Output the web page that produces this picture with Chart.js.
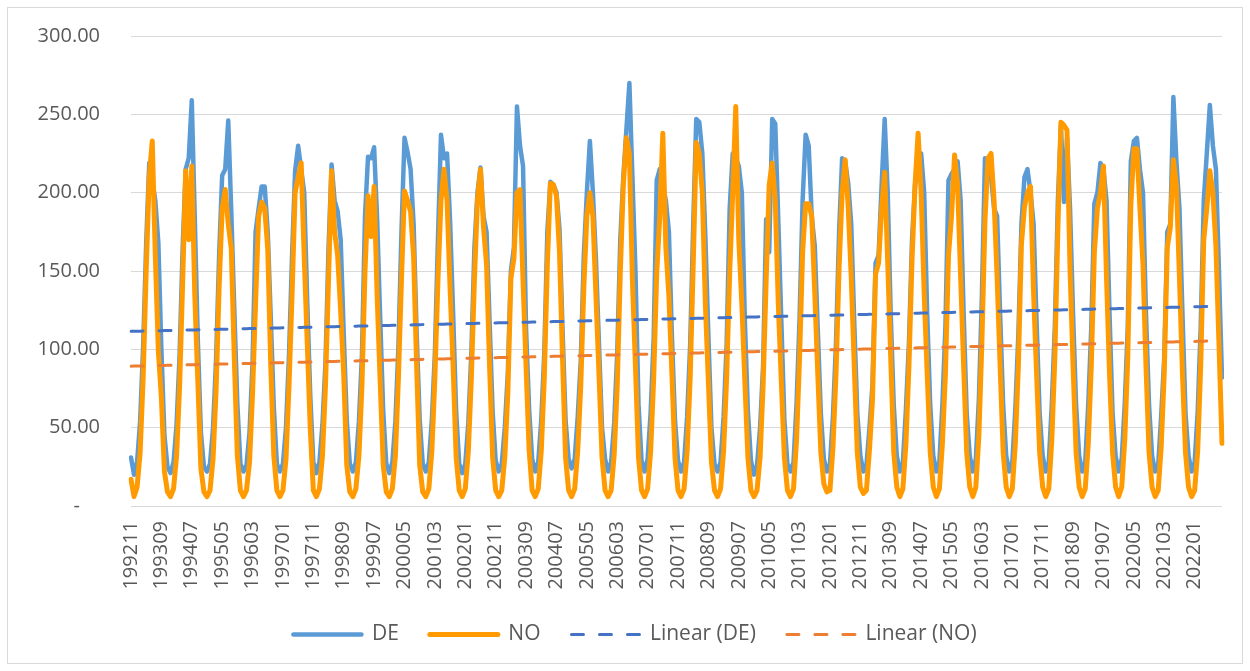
<!DOCTYPE html>
<html>
<head>
<meta charset="utf-8">
<script src="https://cdn.jsdelivr.net/npm/chart.js@4.4.1/dist/chart.umd.min.js"></script>
<style>
  html, body { margin: 0; padding: 0; background: #ffffff; }
  #wrap { position: relative; width: 1250px; height: 671px; }
</style>
</head>
<body>
<div id="wrap"><canvas id="c" width="1250" height="671"></canvas></div>
<script>
// ---- categories: monthly periods 199211 .. 202210 ----
const firstPeriod = [1992, 11];
const periodCount = 360;
const categories = [];
for (let k = 0; k < periodCount; k++) {
  const m0 = firstPeriod[1] - 1 + k;
  const y = firstPeriod[0] + Math.floor(m0 / 12);
  const m = (m0 % 12) + 1;
  categories.push(String(y) + String(m).padStart(2, '0'));
}
const labelEvery = 10;

// ---- series values (one row per year, Jan..Dec) ----
const deValues = [
  31, 20,                                                   // 1992 Nov-Dec
  28, 54, 102, 168, 219, 208, 195, 168, 100, 45, 25, 21,    // 1993
  28, 52,  97, 165, 215, 222, 259, 183, 105, 47, 25, 22,    // 1994
  27, 50,  94, 160, 211, 215, 246, 188, 125, 65, 27, 22,    // 1995
  26, 47,  92, 175, 190, 204, 204, 175, 120, 63, 27, 22,    // 1996
  27, 50,  97, 160, 214, 230, 215, 200, 130, 70, 28, 21,    // 1997
  28, 52,  92, 165, 218, 195, 188, 170, 110, 55, 27, 22,    // 1998
  28, 54,  97, 185, 223, 222, 229, 183, 120, 60, 27, 21,    // 1999
  28, 54, 102, 175, 235, 226, 215, 180, 110, 55, 27, 22,    // 2000
  28, 55,  98, 170, 237, 222, 225, 182, 123, 60, 27, 21,    // 2001
  27, 53,  98, 165, 200, 216, 185, 175, 118, 60, 29, 22,    // 2002
  27, 50,  85, 150, 165, 255, 230, 217, 113, 62, 30, 22,    // 2003
  28, 55,  98, 175, 207, 205, 200, 177, 113, 55, 30, 24,    // 2004
  30, 57,  93, 160, 200, 233, 200, 157, 103, 50, 30, 22,    // 2005
  28, 53,  98, 170, 210, 240, 270, 210, 150, 65, 29, 22,    // 2006
  30, 60, 108, 208, 215, 205, 195, 175, 108, 55, 29, 22,    // 2007
  28, 57, 103, 180, 247, 245, 225, 172, 108, 50, 27, 22,    // 2008
  28, 57, 103, 190, 225, 222, 217, 200, 118, 60, 29, 20,    // 2009
  26, 50,  90, 183, 162, 247, 244, 182, 118, 55, 27, 22,    // 2010
  28, 65, 120, 195, 237, 230, 185, 166, 112, 59, 30, 22,    // 2011
  27, 58, 105, 175, 222, 220, 206, 180, 117, 59, 32, 22,    // 2012
  26, 50,  78, 155, 160, 205, 247, 200, 122, 64, 32, 22,    // 2013
  28, 62, 105, 170, 205, 215, 225, 200, 122, 64, 32, 22,    // 2014
  28, 65, 115, 208, 212, 215, 220, 195, 122, 59, 32, 22,    // 2015
  30, 68, 135, 222, 215, 210, 190, 185, 122, 64, 32, 22,    // 2016
  28, 62, 110, 180, 210, 215, 200, 180, 117, 59, 32, 22,    // 2017
  28, 65, 115, 195, 243, 194, 235, 190, 122, 64, 32, 22,    // 2018
  28, 65, 115, 193, 200, 219, 215, 195, 122, 59, 32, 22,    // 2019
  30, 65, 115, 220, 233, 235, 215, 200, 122, 64, 32, 22,    // 2020
  26, 58,  95, 175, 180, 261, 220, 190, 122, 59, 32, 22,    // 2021
  28, 60, 115, 195, 225, 256, 230, 215, 150, 82             // 2022 Jan-Oct
];

const noValues = [
  17, 6,                                                    // 1992 Nov-Dec
  12, 34,  82, 150, 210, 233, 160,  99,  69, 22,  9, 6,     // 1993
  11, 32,  77, 143, 214, 170, 217, 134,  79, 24,  9, 6,     // 1994
  10, 30,  74, 140, 190, 202, 180, 164,  94, 32, 10, 6,     // 1995
  10, 28,  72, 130, 185, 194, 190, 164,  89, 32, 10, 6,     // 1996
  10, 30,  77, 135, 200, 210, 219, 159, 104, 49, 10, 6,     // 1997
  11, 32,  77, 145, 214, 175, 160, 124,  84, 26,  9, 6,     // 1998
  11, 32,  77, 150, 198, 172, 204, 134,  79, 26,  9, 6,     // 1999
  11, 32,  82, 145, 201, 195, 188, 159,  89, 26,  9, 6,     // 2000
  11, 35,  82, 144, 195, 215, 195, 139,  89, 31, 10, 6,     // 2001
  11, 35,  82, 144, 195, 215, 178, 154,  89, 31, 10, 6,     // 2002
  10, 31,  72, 145, 158, 200, 202, 144,  89, 36, 10, 6,     // 2003
  11, 35,  82, 154, 206, 205, 198, 162,  94, 31, 10, 6,     // 2004
  11, 35,  77, 139, 185, 200, 185, 134,  84, 31, 10, 6,     // 2005
  10, 33,  77, 149, 205, 235, 225, 144,  89, 31, 10, 6,     // 2006
  11, 35,  82, 149, 185, 238, 165, 134,  84, 31, 10, 6,     // 2007
  11, 35,  82, 154, 232, 225, 200, 129,  79, 28, 10, 6,     // 2008
  11, 35,  82, 149, 200, 255, 170, 129,  79, 31, 10, 6,     // 2009
  10, 31,  77, 144, 205, 219, 195, 129,  79, 31, 10, 6,     // 2010
  11, 42,  95, 162, 193, 193, 185, 136,  84, 34, 14, 9,     // 2011
  10, 38,  85, 152, 200, 221, 191, 146,  89, 34, 12, 8,     // 2012
  10, 36,  68, 148, 155, 190, 213, 156,  94, 34, 12, 6,     // 2013
  11, 40,  90, 157, 205, 238, 200, 136,  84, 34, 12, 6,     // 2014
  11, 40,  85, 160, 185, 224, 205, 146,  89, 34, 12, 6,     // 2015
  12, 45, 105, 182, 222, 225, 195, 146,  89, 34, 12, 6,     // 2016
  11, 40,  90, 167, 191, 200, 204, 136,  84, 34, 12, 6,     // 2017
  11, 42,  95, 177, 245, 243, 240, 151,  89, 34, 12, 6,     // 2018
  11, 40,  90, 162, 190, 200, 217, 146,  84, 34, 12, 6,     // 2019
  12, 42,  95, 192, 228, 228, 190, 154,  89, 34, 12, 6,     // 2020
  10, 38,  85, 165, 178, 221, 205, 146,  84, 34, 12, 6,     // 2021
  10, 35,  90, 170, 190, 214, 200, 166, 104, 40             // 2022 Jan-Oct
];

const seriesNames = ['DE', 'NO', 'Linear (DE)', 'Linear (NO)'];
const yTickValues = [0, 50, 100, 150, 200, 250, 300];

// least-squares linear trend (as Excel's "Linear" trendline)
function linearTrend(vals) {
  const n = vals.length;
  let sx = 0, sy = 0, sxx = 0, sxy = 0;
  for (let i = 0; i < n; i++) { sx += i; sy += vals[i]; sxx += i * i; sxy += i * vals[i]; }
  const b = (n * sxy - sx * sy) / (n * sxx - sx * sx);
  const a = (sy - b * sx) / n;
  return vals.map((_, i) => a + b * i);
}
const deTrend = linearTrend(deValues);
const noTrend = linearTrend(noValues);

const FONT = '"Open Sans", "Liberation Sans", sans-serif';
const TEXT = '#595959';
const GRID = '#d9d9d9';

const framePlugin = {
  id: 'frame',
  beforeDraw(chart) {
    const ctx = chart.ctx;
    ctx.save();
    ctx.fillStyle = '#ffffff';
    ctx.fillRect(0, 0, chart.width, chart.height);
    ctx.strokeStyle = GRID;
    ctx.lineWidth = 1;
    ctx.strokeRect(7.5, 7.5, 1235, 656);
    ctx.restore();
  },
  afterLayout(chart) {
    if (chart.legend) { chart.legend.left += 24; chart.legend.right += 24; }
  }
};

new Chart(document.getElementById('c'), {
  type: 'line',
  data: {
    labels: categories,
    datasets: [
      { label: seriesNames[0], data: deValues, borderColor: '#5B9BD5', backgroundColor: '#5B9BD5',
        borderWidth: 4.5, pointRadius: 0, borderJoinStyle: 'round', borderCapStyle: 'round', order: 3 },
      { label: seriesNames[1], data: noValues, borderColor: '#FF9A00', backgroundColor: '#FF9A00',
        borderWidth: 5, pointRadius: 0, borderJoinStyle: 'round', borderCapStyle: 'round', order: 2 },
      { label: seriesNames[2], data: deTrend, borderColor: '#4472C4', backgroundColor: '#4472C4',
        borderWidth: 3, pointRadius: 0, borderDash: [12, 16], borderCapStyle: 'round', order: 1 },
      { label: seriesNames[3], data: noTrend, borderColor: '#ED7D31', backgroundColor: '#ED7D31',
        borderWidth: 3, pointRadius: 0, borderDash: [12, 16], borderCapStyle: 'round', order: 0 }
    ]
  },
  options: {
    responsive: false,
    animation: false,
    devicePixelRatio: 1,
    layout: { padding: { left: 0, right: 28, top: 36, bottom: 16 } },
    plugins: {
      tooltip: { enabled: false },
      legend: {
        position: 'bottom',
        align: 'center',
        labels: {
          usePointStyle: true,
          pointStyle: 'line',
          pointStyleWidth: 68,
          boxWidth: 68,
          padding: 10,
          color: TEXT,
          font: { family: FONT, size: 21 },
          sort: (a, b) => a.datasetIndex - b.datasetIndex,
          generateLabels(chart) {
            const items = Chart.defaults.plugins.legend.labels.generateLabels(chart);
            items.forEach(it => {
              const ds = chart.data.datasets[it.datasetIndex];
              it.pointStyle = 'line';
              it.lineWidth = ds.borderWidth;
              it.lineDash = ds.borderDash || [];
              it.lineCap = 'round';
              it.strokeStyle = ds.borderColor;
              if (it.datasetIndex < 3) it.text = it.text + '\u2002\u2002';
            });
            return items;
          }
        }
      }
    },
    scales: {
      x: {
        type: 'category',
        offset: false,
        grid: { display: false, drawTicks: false },
        border: { display: false },
        afterFit(scale) { scale.height = 108; },
        ticks: {
          autoSkip: false,
          minRotation: 90,
          maxRotation: 90,
          padding: 15,
          color: TEXT,
          font: { family: FONT, size: 20 },
          callback(value, index) { return index % labelEvery === 0 ? categories[index] : null; }
        }
      },
      y: {
        min: yTickValues[0],
        max: yTickValues[yTickValues.length - 1],
        afterFit(scale) { scale.width = 131; },
        afterBuildTicks(scale) { scale.ticks = yTickValues.map(v => ({ value: v })); },
        grid: { color: GRID, lineWidth: 1, drawTicks: true, tickLength: 31, tickColor: 'rgba(0,0,0,0)' },
        border: { display: false },
        ticks: {
          padding: 0,
          color: TEXT,
          font: { family: FONT, size: 20 },
          callback(v) { return v === 0 ? '-\u2002\u2002' : Number(v).toFixed(2); }
        }
      }
    }
  },
  plugins: [framePlugin]
});
</script>
</body>
</html>
